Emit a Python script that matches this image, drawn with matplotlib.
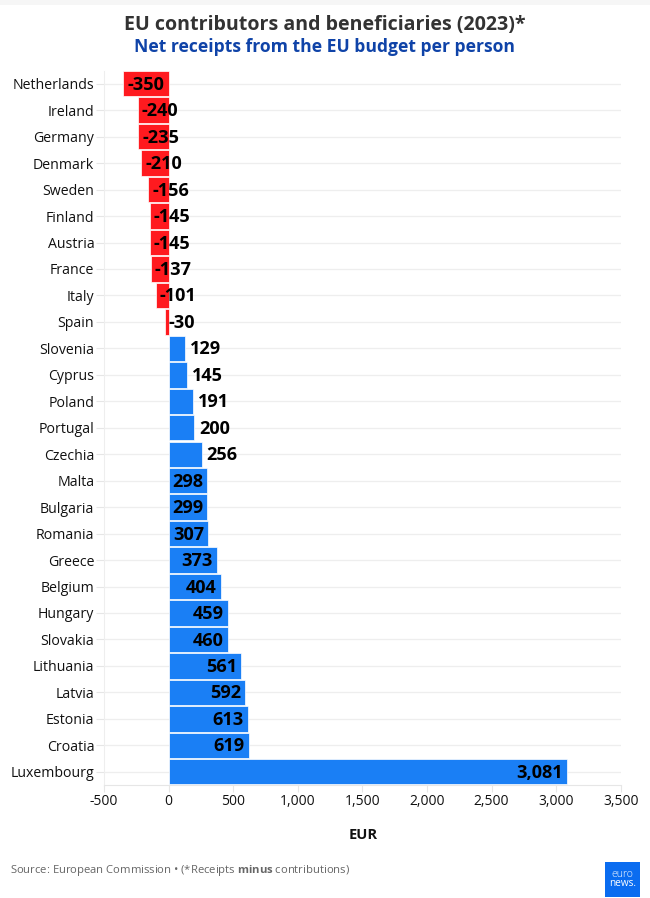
import matplotlib
matplotlib.use("Agg")
import matplotlib.pyplot as plt
from matplotlib.patches import Rectangle

plt.rcParams['font.family'] = ['Open Sans', 'DejaVu Sans']
plt.rcParams['mathtext.fontset'] = 'custom'
plt.rcParams['mathtext.bf'] = 'Open Sans:bold'

countries = ["Netherlands", "Ireland", "Germany", "Denmark", "Sweden", "Finland", "Austria",
             "France", "Italy", "Spain", "Slovenia", "Cyprus", "Poland", "Portugal", "Czechia",
             "Malta", "Bulgaria", "Romania", "Greece", "Belgium", "Hungary", "Slovakia",
             "Lithuania", "Latvia", "Estonia", "Croatia", "Luxembourg"]
values = [-350, -240, -235, -210, -156, -145, -145, -137, -101, -30, 129, 145, 191, 200, 256,
          298, 299, 307, 373, 404, 459, 460, 561, 592, 613, 619, 3081]
xticks = [-500, 0, 500, 1000, 1500, 2000, 2500, 3000, 3500]

W, H = 650, 898
fig = plt.figure(figsize=(W / 100, H / 100), dpi=100)
ax = fig.add_axes([104 / W, 1 - 785 / H, (620.8 - 104) / W, (785 - 70.5) / H])

colors = ["#ff1a1f" if v < 0 else "#1a7ff5" for v in values]
ax.barh(countries, values, height=0.96, color=colors, edgecolor="white", linewidth=0.5, zorder=3)
ax.set_ylim(len(countries) - 0.5, -0.5)
ax.set_xlim(-500, 3500)

ax.set_xticks(xticks)
ax.set_xticklabels([f"{t:,}" for t in xticks], fontsize=10, color="#111111")
ax.tick_params(axis="x", length=5, width=0.8, color="#e6e6e6", pad=1.5)
ax.tick_params(axis="y", length=5.5, width=0.8, color="#e6e6e6", pad=1.5, labelsize=10.2, labelcolor="#111111")
ax.grid(axis="y", color="#eeeeee", linewidth=0.9, zorder=0)
ax.grid(axis="x", visible=False)
for side in ["top", "right"]:
    ax.spines[side].set_visible(False)
ax.spines["left"].set_color("#eeeeee")
ax.spines["bottom"].set_color("#e6e6e6")

# value labels: inside the bar end for the big ones, just past it for the small ones
unit = (620.8 - 104) / 4000
for i, v in enumerate(values):
    if v < 0:
        x, ha = v + 4 / unit, "left"
    elif v < 280:
        x, ha = v + 4.5 / unit, "left"
    else:
        x, ha = v - 4 / unit, "right"
    ax.text(x, i + 0.04, f"{v:,}", ha=ha, va="center", fontsize=13.1, fontweight="bold", color="black", zorder=4)

# titles and footer
fig.text(325 / W, 1 - 25 / H, "EU contributors and beneficiaries (2023)*", ha="center", va="center",
         fontsize=14.1, fontweight="bold", color="#333333")
fig.text(325 / W, 1 - 47 / H, "Net receipts from the EU budget per person", ha="center", va="center",
         fontsize=12.6, fontweight="bold", color="#0f43a8")
fig.text(363 / W, 1 - 835 / H, "EUR", ha="center", va="center", fontsize=10.5, fontweight="bold", color="#111111")

fig.text(10.5 / W, 1 - 870 / H, "Source: European Commission • (*Receipts $\\bf{minus}$ contributions)",
         ha="left", va="center", fontsize=8.1, color="#666666")

# top band and logo
fig.add_artist(Rectangle((0, 1 - 5 / H), 1, 5 / H, transform=fig.transFigure, color="#f6f6f6", lw=0))
fig.add_artist(Rectangle((605 / W, 1 - 897 / H), 35 / W, 35 / H, transform=fig.transFigure,
                         color="#0a6cf0", lw=0))
fig.text(622.5 / W, 1 - 874.5 / H, "euro", ha="center", va="center", fontsize=7.6, fontweight="light", color="white")
fig.text(622.5 / W, 1 - 884 / H, "news.", ha="center", va="center", fontsize=7.2, color="white")

fig.savefig("out.png", dpi=100)
